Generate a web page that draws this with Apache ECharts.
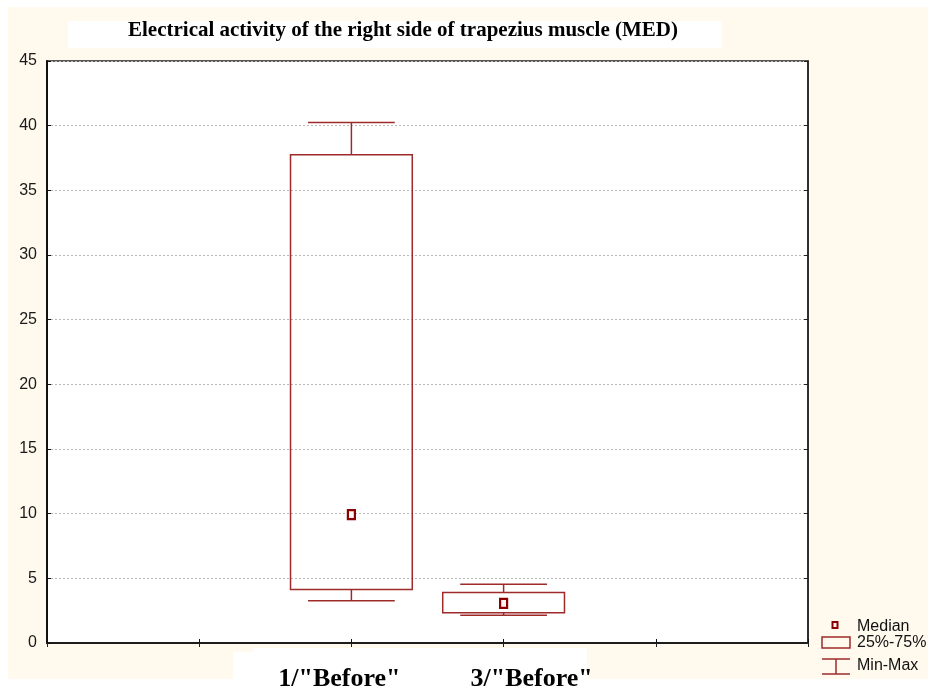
<!DOCTYPE html>
<html>
<head>
<meta charset="utf-8">
<script src="https://cdn.jsdelivr.net/npm/echarts@6/dist/echarts.min.js"></script>
<style>
  html, body { margin: 0; padding: 0; background: #ffffff; }
  #chart { width: 928px; height: 689px; }
</style>
</head>
<body>
<div id="chart"></div>
<script>
// Groups and their summary statistics (min, Q1, median, Q3, max)
const categories = ['1/"Before"', '3/"Before"'];
const minValues    = [3.26, 2.14];
const q1Values     = [4.14, 2.34];
const medianValues = [9.93, 3.06];
const q3Values     = [37.75, 3.91];
const maxValues    = [40.25, 4.55];
const yTicks = [0, 5, 10, 15, 20, 25, 30, 35, 40, 45];

// The axis has five slots; the two groups sit at the two middle tick marks
const LEAD = 2;
const axisSlots = ['', ''].concat(categories, ['', '']);

const boxData = categories.map((c, i) => [
  LEAD + i, minValues[i], q1Values[i], medianValues[i], q3Values[i], maxValues[i]
]);

const LINE = '#9e2a2a';
const MARK = '#8b0000';

function renderBox(params, api) {
  const x = api.value(0);
  const pMin = api.coord([x, api.value(1)]);
  const pQ1 = api.coord([x, api.value(2)]);
  const pMed = api.coord([x, api.value(3)]);
  const pQ3 = api.coord([x, api.value(4)]);
  const pMax = api.coord([x, api.value(5)]);
  const step = api.size([1, 0])[0];
  const boxW = step * 0.8;
  const capW = step * 0.57;
  const cx = pMin[0];
  const ln = { stroke: LINE, lineWidth: 1.5 };
  return {
    type: 'group',
    children: [
      { type: 'line', shape: { x1: cx, y1: pMax[1], x2: cx, y2: pQ3[1] }, style: ln },
      { type: 'line', shape: { x1: cx - capW / 2, y1: pMax[1], x2: cx + capW / 2, y2: pMax[1] }, style: ln },
      { type: 'line', shape: { x1: cx, y1: pQ1[1], x2: cx, y2: pMin[1] }, style: ln },
      { type: 'line', shape: { x1: cx - capW / 2, y1: pMin[1], x2: cx + capW / 2, y2: pMin[1] }, style: ln },
      { type: 'rect', shape: { x: cx - boxW / 2, y: pQ3[1], width: boxW, height: pQ1[1] - pQ3[1] },
        style: { fill: 'rgba(255,255,255,0)', stroke: LINE, lineWidth: 1.5 } },
      { type: 'rect', shape: { x: cx - 3.5, y: pMed[1] - 4.5, width: 7, height: 9 },
        style: { fill: '#fff5f5', stroke: MARK, lineWidth: 2.2 } }
    ]
  };
}

const chart = echarts.init(document.getElementById('chart'), null, { renderer: 'canvas' });

const serif = '"Liberation Serif", "Times New Roman", serif';
const sans = '"Liberation Sans", Arial, sans-serif';

chart.setOption({
  backgroundColor: '#ffffff',
  animation: false,
  title: {
    text: 'Electrical activity of the right side of trapezius muscle (MED)',
    left: 128,
    top: 19,
    padding: 0,
    textStyle: { fontFamily: serif, fontWeight: 'bold', fontSize: 21, color: '#000', lineHeight: 24 }
  },
  graphic: [
    // cream page frame
    { type: 'rect', z: -10, shape: { x: 8, y: 7, width: 920, height: 672 }, style: { fill: '#fff9ee' } },
    // white panel behind the title
    { type: 'rect', z: -9, shape: { x: 68, y: 21, width: 654, height: 27 }, style: { fill: '#ffffff' } },
    // white panel behind the group labels
    { type: 'rect', z: -9, shape: { x: 253, y: 648, width: 334, height: 41 }, style: { fill: '#ffffff' } },
    { type: 'rect', z: -9, shape: { x: 233, y: 652, width: 354, height: 37 }, style: { fill: '#ffffff' } },
    // legend
    { type: 'rect', z: 10, shape: { x: 832.5, y: 622, width: 5, height: 6 },
      style: { fill: '#fff5f5', stroke: MARK, lineWidth: 2 } },
    { type: 'text', z: 10, x: 857, y: 627,
      style: { text: 'Median', fontFamily: sans, fontSize: 16, fill: '#111', verticalAlign: 'middle' } },
    { type: 'rect', z: 10, shape: { x: 822, y: 637, width: 28, height: 11 },
      style: { fill: 'none', stroke: LINE, lineWidth: 1.5 } },
    { type: 'text', z: 10, x: 857, y: 643,
      style: { text: '25%-75%', fontFamily: sans, fontSize: 16, fill: '#111', verticalAlign: 'middle' } },
    { type: 'line', z: 10, shape: { x1: 822, y1: 659, x2: 850, y2: 659 }, style: { stroke: LINE, lineWidth: 1.5 } },
    { type: 'line', z: 10, shape: { x1: 836, y1: 659, x2: 836, y2: 674 }, style: { stroke: LINE, lineWidth: 1.5 } },
    { type: 'line', z: 10, shape: { x1: 822, y1: 674, x2: 850, y2: 674 }, style: { stroke: LINE, lineWidth: 1.5 } },
    { type: 'text', z: 10, x: 857, y: 666,
      style: { text: 'Min-Max', fontFamily: sans, fontSize: 16, fill: '#111', verticalAlign: 'middle' } }
  ],
  grid: {
    left: 47, right: 120, top: 61, bottom: 46,
    outerBoundsMode: 'none',
    show: true, backgroundColor: '#ffffff', borderColor: '#222', borderWidth: 1.5
  },
  xAxis: [
    {
      type: 'category',
      data: axisSlots,
      boundaryGap: false,
      position: 'bottom',
      axisLine: { show: true, lineStyle: { color: '#111', width: 2 } },
      axisTick: { show: true, inside: true, length: 4, lineStyle: { color: '#111' } },
      splitLine: { show: false },
      axisLabel: {
        show: true,
        interval: 0,
        margin: 23,
        formatter: (v) => {
          if (v === categories[0]) return '{a|' + v + '}';
          if (v === categories[1]) return '{b|' + v + '}';
          return '';
        },
        rich: {
          a: { fontFamily: serif, fontWeight: 'bold', fontSize: 26, color: '#000', padding: [0, 24, 0, 0] },
          b: { fontFamily: serif, fontWeight: 'bold', fontSize: 26, color: '#000', padding: [0, 0, 0, 56] }
        }
      }
    },
    {
      type: 'category',
      data: axisSlots,
      boundaryGap: false,
      position: 'top',
      axisLine: { show: true, lineStyle: { color: '#222', width: 1.5 } },
      axisTick: { show: true, inside: true, length: 4, lineStyle: { color: '#222' } },
      axisLabel: { show: false }
    }
  ],
  yAxis: [
    {
      type: 'value',
      min: yTicks[0],
      max: yTicks[yTicks.length - 1],
      interval: yTicks[1] - yTicks[0],
      position: 'left',
      axisLine: { show: true, lineStyle: { color: '#111', width: 2 } },
      axisTick: { show: true, inside: true, length: 4, lineStyle: { color: '#111' } },
      axisLabel: { fontFamily: sans, fontSize: 16, color: '#1a1a1a', margin: 10 },
      splitLine: { show: true, lineStyle: { color: '#b8b8b8', type: [2, 2], width: 1 } }
    },
    {
      type: 'value',
      min: yTicks[0],
      max: yTicks[yTicks.length - 1],
      interval: yTicks[1] - yTicks[0],
      position: 'right',
      axisLine: { show: true, lineStyle: { color: '#222', width: 1.5 } },
      axisTick: { show: true, inside: true, length: 4, lineStyle: { color: '#222' } },
      axisLabel: { show: false },
      splitLine: { show: false }
    }
  ],
  series: [
    {
      type: 'custom',
      name: 'Box',
      xAxisIndex: 0,
      yAxisIndex: 0,
      renderItem: renderBox,
      encode: { x: 0, y: [1, 2, 3, 4, 5] },
      data: boxData,
      z: 5
    }
  ]
});
</script>
</body>
</html>
